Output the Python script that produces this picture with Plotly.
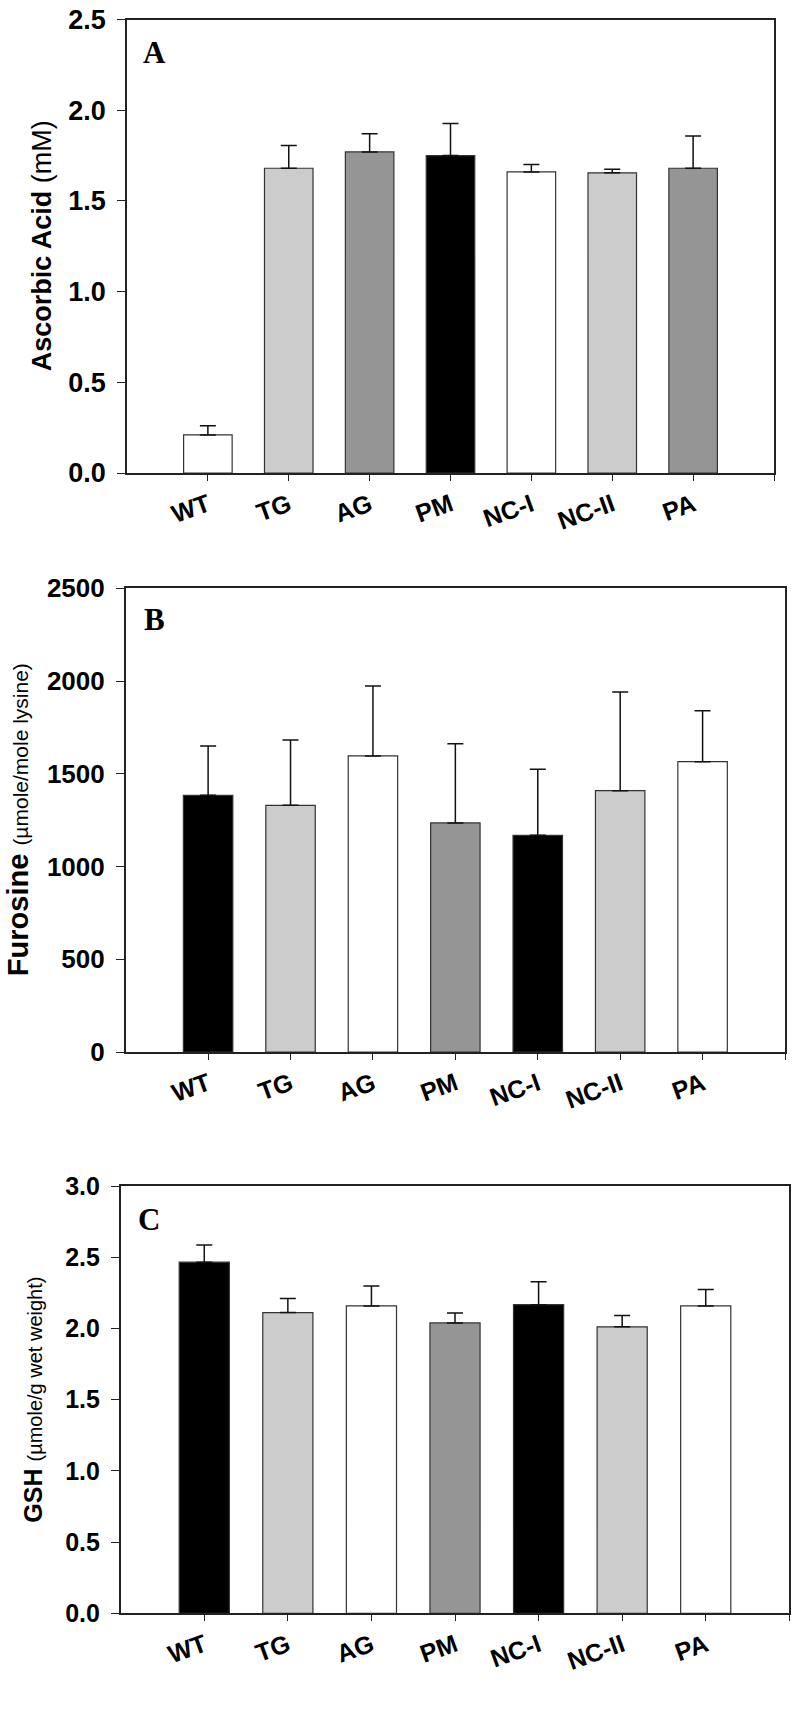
import plotly.graph_objects as go

categories = ["WT", "TG", "AG", "PM", "NC-I", "NC-II", "PA"]

ascorbic_mean = [0.21, 1.68, 1.77, 1.75, 1.66, 1.655, 1.68]
ascorbic_err = [0.05, 0.125, 0.10, 0.176, 0.04, 0.02, 0.178]

furosine_mean = [1384, 1330, 1596, 1235, 1168, 1409, 1565]
furosine_err = [266, 352, 377, 427, 356, 532, 275]

gsh_mean = [2.465, 2.111, 2.158, 2.039, 2.167, 2.011, 2.158]
gsh_err = [0.12, 0.10, 0.14, 0.07, 0.16, 0.08, 0.115]

WHITE = "#ffffff"
LIGHT = "#cccccc"
MID = "#959595"
BLACK = "#000000"

colors_a = [WHITE, LIGHT, MID, BLACK, WHITE, LIGHT, MID]
colors_b = [BLACK, LIGHT, WHITE, MID, BLACK, LIGHT, WHITE]
colors_c = [BLACK, LIGHT, WHITE, MID, BLACK, LIGHT, WHITE]

W, H = 800, 1715

def px_x(v):
    return v / W

def px_y(v):
    return 1 - v / H

# plot areas in page pixels (left, right, top, bottom)
boxes = {
    "A": (127, 774, 19.5, 473),
    "B": (125.7, 785, 588.3, 1052),
    "C": (120.7, 789.3, 1186, 1613.3),
}

xpos = list(range(len(categories)))

fig = go.Figure()

panels = [
    ("A", "", ascorbic_mean, ascorbic_err, colors_a),
    ("B", "2", furosine_mean, furosine_err, colors_b),
    ("C", "3", gsh_mean, gsh_err, colors_c),
]

for name, suf, mean, err, cols in panels:
    fig.add_trace(go.Bar(
        x=xpos, y=mean, width=0.6,
        marker=dict(color=cols, line=dict(color="#333333", width=1.2)),
        error_y=dict(type="data", symmetric=False, array=err,
                     arrayminus=[0] * len(err), color="#111111",
                     thickness=1.5, width=8),
        xaxis="x" + suf, yaxis="y" + suf, showlegend=False,
        hoverinfo="skip",
    ))

axis_line = "#222222"
tick_family = "Liberation Sans, Arial, sans-serif"

layout = dict(
    width=W, height=H,
    margin=dict(l=0, r=0, t=0, b=0, autoexpand=False),
    paper_bgcolor="white", plot_bgcolor="white",
    showlegend=False, hovermode=False,
)

yranges = {"A": ([0, 2.5], 0.5, ".1f", 27),
           "B": ([0, 2500], 500, "d", 26),
           "C": ([0, 3.0], 0.5, ".1f", 25)}

for name, suf, *_ in panels:
    l, r, t, b = boxes[name]
    xa = "xaxis" + suf
    ya = "yaxis" + suf
    yr, dt, fmt, fs = yranges[name]
    layout[xa] = dict(
        domain=[px_x(l), px_x(r)], anchor="y" + suf, automargin=False,
        range=[-1, 7], tickmode="array",
        tickvals=list(range(len(categories) + 1)),
        ticktext=categories + [""],
        tickangle=-20, ticks="outside", ticklen=6, tickwidth=1.2,
        tickcolor=axis_line, showline=True, linecolor=axis_line,
        linewidth=1.5, mirror=True, showgrid=False, zeroline=False,
        tickfont=dict(family=tick_family, size=25, color="black", weight=700),
    )
    layout[ya] = dict(
        domain=[px_y(b), px_y(t)], anchor="x" + suf, automargin=False,
        range=yr, dtick=dt, tick0=0, tickformat=fmt,
        ticks="outside", ticklen=8, tickwidth=1.2, tickcolor=axis_line,
        showline=True, linecolor=axis_line, linewidth=1.5, mirror=True,
        showgrid=False, zeroline=False, ticklabelstandoff=6,
        tickfont=dict(family=tick_family, size=fs, color="black", weight=700),
    )

fig.update_layout(**layout)

def ycenter(name):
    l, r, t, b = boxes[name]
    return px_y((t + b) / 2)

titles = [
    ("<b>Ascorbic Acid</b> (mM)", 42, ycenter("A"), 27),
    ("<b>Furosine</b> <span style='font-size:21px'>(\u00b5mole/mole lysine)</span>", 18, ycenter("B"), 29),
    ("<b>GSH</b> <span style='font-size:20px'>(\u00b5mole/g wet weight)</span>", 33, ycenter("C"), 25),
]
for text, xc, yc, fs in titles:
    fig.add_annotation(
        text=text, xref="paper", yref="paper", x=px_x(xc), y=yc,
        xanchor="center", yanchor="middle", textangle=-90, showarrow=False,
        font=dict(family=tick_family, size=fs, color="black"),
    )

letters = [("A", 141, 52), ("B", 142, 619.5), ("C", 136, 1219.5)]
for txt, lx, ly in letters:
    fig.add_annotation(
        text="<b>" + txt + "</b>", xref="paper", yref="paper",
        x=px_x(lx), y=px_y(ly), xanchor="left", yanchor="middle",
        showarrow=False,
        font=dict(family="Liberation Serif, Times New Roman, serif", size=31, color="black"),
    )

# remove the browser's default 8px body margin so page pixels match figure pixels
fig.write_html("out.html", config={"displayModeBar": False},
               post_script="document.body.style.margin='0px';")
